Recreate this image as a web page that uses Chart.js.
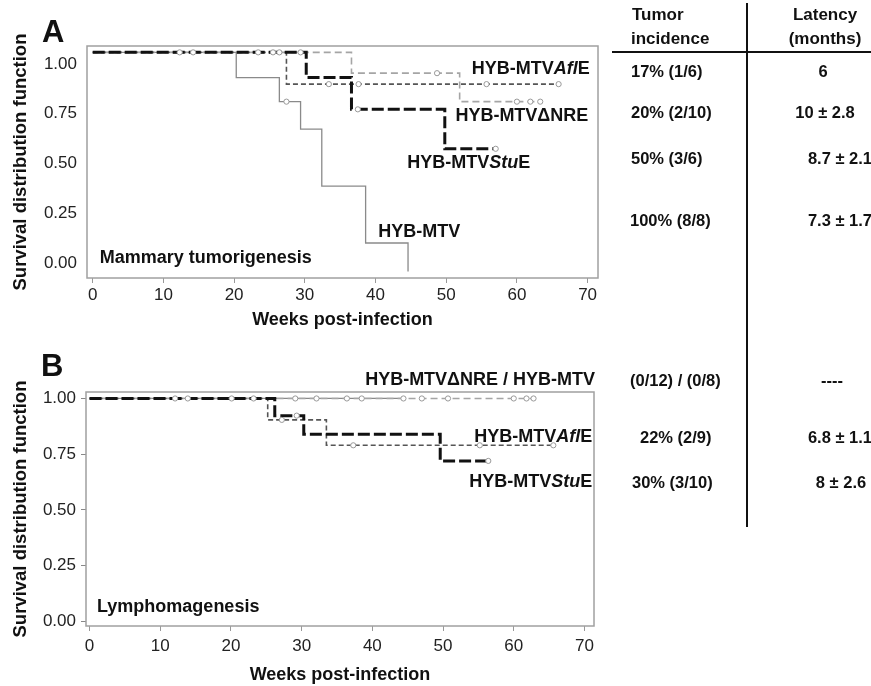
<!doctype html>
<html lang="en">
<head>
<meta charset="utf-8">
<title>Survival curves - HYB-MTV variants</title>
<script src="https://cdn.jsdelivr.net/npm/chart.js"></script>
<style>
  body { margin: 0; background: #fff; font-family: "Liberation Sans", Arial, sans-serif; color: #111; }
  #wrap { position: relative; width: 871px; height: 686px; overflow: hidden; }
  canvas { position: absolute; left: 0; }
  .t { position: absolute; font-weight: bold; font-size: 16.5px; line-height: 1; white-space: nowrap; transform: translateY(-50%); }
  .c { transform: translate(-50%, -50%); }
  .head { font-size: 17px; }
  .panel { position: absolute; font-weight: bold; font-size: 31px; line-height: 1; transform: translateY(-50%); }
  .rule { position: absolute; background: #111; }
</style>
</head>
<body>
<div id="wrap">
  <canvas id="chartA" width="871" height="336" style="top:0"></canvas>
  <canvas id="chartB" width="871" height="346" style="top:340px"></canvas>
  <div class="panel" style="left:42px;top:31px">A</div>
  <div class="panel" style="left:41px;top:365px">B</div>
  <div class="rule" style="left:612px;top:51px;width:259px;height:2px"></div>
  <div class="rule" style="left:746px;top:3px;width:2px;height:524px"></div>
  <div id="table"></div>
</div>

<script>
// tick values
const xTicks = [0, 10, 20, 30, 40, 50, 60, 70];
const yTicks = [0, 0.25, 0.5, 0.75, 1];

// A - mammary tumorigenesis: step points (weeks, survival)
const stuA_wk = [0, 30.2, 36.6, 49.8, 57.0];
const stuA_s  = [1, 0.885, 0.74, 0.56, 0.56];
const aflA_wk = [0, 27.4, 65.9];
const aflA_s  = [1, 0.855, 0.855];
const nreA_wk = [0, 36.6, 51.9, 63.3];
const nreA_s  = [1, 0.905, 0.775, 0.775];
const mtvA_wk = [0, 20.3, 26.4, 29.4, 32.4, 38.6, 44.6];
const mtvA_s  = [1, 0.885, 0.775, 0.65, 0.39, 0.13, 0];
// A - censored animals
const cenA_wk = [12.3, 14.2, 23.4, 37.5, 57.0, 25.5, 29.4, 48.7, 60.0, 61.9, 63.3, 26.4, 33.4, 37.6, 55.7, 65.9, 27.4];
const cenA_s  = [1, 1, 1, 0.74, 0.56, 1, 1, 0.905, 0.775, 0.775, 0.775, 1, 0.855, 0.855, 0.855, 0.855, 0.775];

// B - lymphomagenesis
const stuB_wk = [0, 26.2, 30.3, 49.6, 56.4];
const stuB_s  = [1, 0.923, 0.84, 0.72, 0.72];
const aflB_wk = [0, 25.2, 33.5, 65.6];
const aflB_s  = [1, 0.904, 0.79, 0.79];
const nreB_wk = [0, 62.8];
const nreB_s  = [1, 1];
const mtvB_wk = [0, 44.4];
const mtvB_s  = [1, 1];
const cenB_wk = [12.1, 13.9, 29.3, 56.4, 20.1, 23.2, 27.2, 37.3, 55.2, 65.6, 29.1, 32.1, 36.4, 38.5, 44.4, 47.0, 50.7, 60.0, 61.8, 62.8];
const cenB_s  = [1, 1, 0.923, 0.72, 1, 1, 0.904, 0.79, 0.79, 0.79, 1, 1, 1, 1, 1, 1, 1, 1, 1, 1];

// table
const incidenceA = ['17% (1/6)', '20% (2/10)', '50% (3/6)', '100% (8/8)'];
const latencyA   = ['6', '10 ± 2.8', '8.7 ± 2.1', '7.3 ± 1.7'];
const incidenceB = ['(0/12) / (0/8)', '22% (2/9)', '30% (3/10)'];
const latencyB   = ['----', '6.8 ± 1.1', '8 ± 2.6'];

const FONT = '"Liberation Sans", Arial, sans-serif';
Chart.defaults.font.family = FONT;
Chart.defaults.color = '#222';

function pts(wk, s) { return wk.map((x, i) => ({ x: x, y: s[i] })); }

function curve(wk, s, color, width, dash) {
  return { data: pts(wk, s), showLine: true, stepped: 'before', pointRadius: 0,
           borderColor: color, borderWidth: width, borderDash: dash, fill: false };
}
function censored(wk, s) {
  return { data: pts(wk, s), showLine: false, pointRadius: 2.6, pointBorderWidth: 1,
           pointBorderColor: '#999', pointBackgroundColor: '#fff' };
}

// grey frame around the plot area
const frame = {
  id: 'frame',
  beforeDatasetsDraw(chart) {
    const { ctx, chartArea: a } = chart;
    ctx.save();
    ctx.strokeStyle = '#a0a0a0';
    ctx.lineWidth = 1.5;
    ctx.strokeRect(a.left, a.top, a.right - a.left, a.bottom - a.top);
    ctx.restore();
  }
};

// group labels, with italic parts
const tags = {
  id: 'tags',
  afterDatasetsDraw(chart, args, opts) {
    const ctx = chart.ctx;
    const xs = chart.scales.x, ys = chart.scales.y;
    ctx.save();
    ctx.fillStyle = '#111';
    ctx.textBaseline = 'middle';
    ctx.textAlign = 'left';
    opts.items.forEach(it => {
      const fonts = it.parts.map(p => (p[1] ? 'italic ' : '') + 'bold 18px ' + FONT);
      let w = 0;
      it.parts.forEach((p, i) => { ctx.font = fonts[i]; w += ctx.measureText(p[0]).width; });
      let px = xs.getPixelForValue(it.x);
      const py = ys.getPixelForValue(it.y);
      if (it.align === 'right') px -= w;
      it.parts.forEach((p, i) => {
        ctx.font = fonts[i];
        ctx.fillText(p[0], px, py);
        px += ctx.measureText(p[0]).width;
      });
    });
    ctx.restore();
  }
};

function xScale(min, max, tickPad, titlePad, height) {
  return {
    type: 'linear', min: min, max: max,
    afterBuildTicks: s => { s.ticks = xTicks.map(v => ({ value: v })); },
    ticks: { font: { size: 17 }, padding: tickPad, maxRotation: 0, autoSkip: false },
    grid: { drawOnChartArea: false, tickLength: 5, color: '#999' },
    border: { display: false },
    title: { display: true, text: 'Weeks post-infection', color: '#111',
             font: { size: 18, weight: 'bold' }, padding: { top: 0, bottom: titlePad } },
    afterFit: s => { s.height = height; }
  };
}
function yTitle() {
  return { display: true, text: 'Survival distribution function', color: '#111',
           font: { size: 18.5, weight: 'bold' }, padding: { top: 10, bottom: 0 } };
}

const common = {
  responsive: false,
  animation: false,
  plugins: { legend: { display: false }, tooltip: { enabled: false } }
};

// panel A
new Chart(document.getElementById('chartA'), {
  type: 'scatter',
  data: { datasets: [
    censored(cenA_wk, cenA_s),
    curve(stuA_wk, stuA_s, '#111', 3, [12, 4]),
    curve(aflA_wk, aflA_s, '#555', 1.6, [5, 3]),
    curve(nreA_wk, nreA_s, '#a5a5a5', 1.6, [7, 4]),
    curve(mtvA_wk, mtvA_s, '#8a8a8a', 1.3, [])
  ] },
  options: Object.assign({}, common, {
    layout: { padding: { left: 0, top: 46, right: 273, bottom: 0 } },
    scales: {
      x: xScale(-0.81, 71.47, 2, 5, 58),
      y: { type: 'linear', min: -0.0297, max: 1.029, display: false },
      yl: {
        type: 'linear', position: 'left', min: -0.075, max: 1.09,
        afterBuildTicks: s => { s.ticks = yTicks.map(v => ({ value: v })); },
        ticks: { font: { size: 17 }, padding: 10, callback: v => v.toFixed(2) },
        grid: { display: false, drawTicks: false },
        border: { display: false },
        title: yTitle(),
        afterFit: s => { s.width = 87; }
      }
    },
    plugins: Object.assign({}, common.plugins, {
      tags: { items: [
        { x: 70.3, y: 0.924, align: 'right', parts: [['HYB-MTV', 0], ['Afl', 1], ['E', 0]] },
        { x: 70.1, y: 0.709, align: 'right', parts: [['HYB-MTV\u0394NRE', 0]] },
        { x: 61.9, y: 0.495, align: 'right', parts: [['HYB-MTV', 0], ['Stu', 1], ['E', 0]] },
        { x: 40.4, y: 0.180, align: 'left', parts: [['HYB-MTV', 0]] },
        { x: 1.0, y: 0.062, align: 'left', parts: [['Mammary tumorigenesis', 0]] }
      ] }
    })
  }),
  plugins: [frame, tags]
});

// panel B
new Chart(document.getElementById('chartB'), {
  type: 'scatter',
  data: { datasets: [
    censored(cenB_wk, cenB_s),
    curve(stuB_wk, stuB_s, '#111', 3, [12, 4]),
    curve(aflB_wk, aflB_s, '#555', 1.6, [5, 3]),
    curve(nreB_wk, nreB_s, '#a5a5a5', 1.6, [7, 4]),
    curve(mtvB_wk, mtvB_s, '#8a8a8a', 1.3, [])
  ] },
  options: Object.assign({}, common, {
    layout: { padding: { left: 0, top: 52, right: 277, bottom: 0 } },
    scales: {
      x: xScale(-0.5, 71.35, 5, 0, 60),
      y: {
        type: 'linear', min: -0.0202, max: 1.029,
        afterBuildTicks: s => { s.ticks = yTicks.map(v => ({ value: v })); },
        ticks: { font: { size: 17 }, padding: 5, callback: v => v.toFixed(2) },
        grid: { drawOnChartArea: false, tickLength: 5, color: '#888' },
        border: { display: false },
        title: yTitle(),
        afterFit: s => { s.width = 86; }
      }
    },
    plugins: Object.assign({}, common.plugins, {
      tags: { items: [
        { x: 71.5, y: 1.083, align: 'right', parts: [['HYB-MTV\u0394NRE / HYB-MTV', 0]] },
        { x: 71.1, y: 0.829, align: 'right', parts: [['HYB-MTV', 0], ['Afl', 1], ['E', 0]] },
        { x: 71.1, y: 0.627, align: 'right', parts: [['HYB-MTV', 0], ['Stu', 1], ['E', 0]] },
        { x: 1.06, y: 0.065, align: 'left', parts: [['Lymphomagenesis', 0]] }
      ] }
    })
  }),
  plugins: [frame, tags]
});

// table on the right
const table = document.getElementById('table');
function put(text, x, y, cls) {
  const d = document.createElement('div');
  d.className = 't ' + (cls || '');
  d.textContent = text;
  d.style.left = x + 'px';
  d.style.top = y + 'px';
  table.appendChild(d);
}
put('Tumor', 632, 14, 'head');
put('incidence', 631, 38, 'head');
put('Latency', 825, 14, 'head c');
put('(months)', 825, 38, 'head c');

const rowYA = [71, 112, 158, 220];
const incXA = [631, 631, 631, 630];
const latXA = [823, 825, 840, 840];
incidenceA.forEach((t, i) => put(t, incXA[i], rowYA[i]));
latencyA.forEach((t, i) => put(t, latXA[i], rowYA[i], 'c'));

const rowYB = [380, 437, 482];
const incXB = [630, 640, 632];
const latXB = [832, 840, 841];
incidenceB.forEach((t, i) => put(t, incXB[i], rowYB[i]));
latencyB.forEach((t, i) => put(t, latXB[i], rowYB[i], 'c'));
</script>
</body>
</html>
